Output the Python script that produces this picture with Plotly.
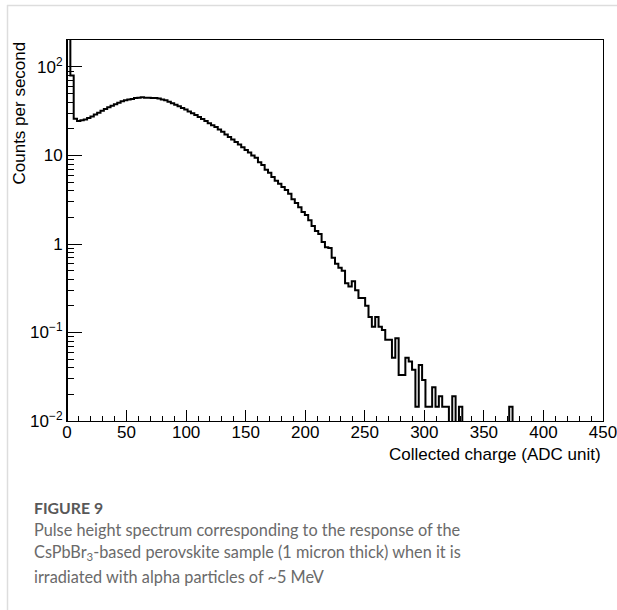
import numpy as np
import plotly.graph_objects as go

# ---- data ----
bin_width = 450 / 160
counts_per_second = [
    300, 80, 26, 24.5, 25, 25.5, 26.5, 27.5, 29, 30.5,
    32, 33.5, 35, 36.5, 38, 39.5, 41, 42, 43, 43.5,
    44.5, 45, 45.5, 45, 45, 44.5, 44.5, 44, 43, 42,
    40.5, 39, 37.5, 36, 34.5, 33, 31.5, 30, 28.7, 27.2,
    25.8, 24.5, 23.2, 22, 21, 19.7, 18.5, 17.3, 16.2, 15.2,
    14.2, 13.3, 12.4, 11.5, 10.8, 10.0, 9.4, 8.4, 7.8, 6.9,
    6.4, 5.7, 5.2, 4.8, 4.4, 4.07, 3.7, 3.2, 2.9, 2.6,
    2.3, 2.13, 1.85, 1.6, 1.4, 1.3, 1.05, 0.92, 0.9, 0.7,
    0.6, 0.54, 0.5, 0.36, 0.33, 0.38, 0.3, 0.245, 0.245, 0.2,
    0.15, 0.116, 0.15, 0.116, 0.107, 0.083, 0.083, 0.052, 0.086, 0.033,
    0.033, 0.052, 0.047, 0.038, 0.0145, 0.043, 0.029, 0.0145, 0.0145, 0.024,
    0.0145, 0.019, 0.0145, 0.0145, 0, 0.019, 0, 0.0145, 0, 0,
    0, 0, 0, 0, 0, 0, 0, 0, 0, 0,
    0, 0, 0.0145, 0, 0, 0, 0, 0, 0, 0,
    0, 0, 0, 0, 0, 0, 0, 0, 0, 0,
    0, 0, 0, 0, 0, 0, 0, 0, 0, 0,
]
x_tick_vals = [0, 50, 100, 150, 200, 250, 300, 350, 400, 450]
y_tick_vals = [0.01, 0.1, 1, 10, 100]
y_tick_text = ["10<sup>\u22122</sup>", "10<sup>\u22121</sup>", "1", "10", "10<sup>2</sup>"]

x_title = "Collected charge (ADC unit)"
y_title = "Counts per second"
fig_label = "FIGURE 9"
caption_lines = [
    "Pulse height spectrum corresponding to the response of the",
    "CsPbBr<sub>3</sub>-based perovskite sample (1 micron thick) when it is",
    "irradiated with alpha particles of ~5 MeV",
]

# ---- build histogram outline ----
vals = np.array(counts_per_second, dtype=float)
n = len(vals)
edges = np.arange(n + 1) * bin_width
floor = 1e-4  # empty bins drop below the axis (as ROOT does on log scale)
plot_vals = np.where(vals > 0, vals, floor)
xs = np.concatenate([[edges[0]], edges[:-1], [edges[-1]]])
ys = np.concatenate([[floor], plot_vals, [plot_vals[-1]]])

fig = go.Figure()
fig.add_trace(go.Scatter(
    x=xs, y=ys, mode="lines", line=dict(color="black", width=2, shape="hv"),
    hoverinfo="skip", showlegend=False,
))

FONT = "Liberation Sans, Arial, Helvetica, sans-serif"
CAP_FONT = "Lato, Open Sans, sans-serif"
L, R, T, B = 67, 14, 40, 189
W, H = 617, 610
pw, ph = W - L - R, H - T - B

def px_x(p):
    return (p - L) / pw

def px_y(p):
    return (H - B - p) / ph

y_minor = [m * 10.0 ** e for e in range(-2, 3) for m in range(2, 10) if m * 10.0 ** e < 205]
x_minor = [v for v in range(0, 451, 10) if v % 50 != 0]

fig.update_layout(
    width=W, height=H,
    margin=dict(l=L, r=R, t=T, b=B, autoexpand=False),
    paper_bgcolor="white", plot_bgcolor="white",
    font=dict(family=FONT, size=17, color="black"),
    xaxis=dict(
        range=[0, 450], showgrid=False, zeroline=False, automargin=False,
        showline=True, mirror=True, linecolor="black", linewidth=1,
        tickmode="array", tickvals=x_tick_vals,
        ticks="inside", ticklen=11, tickwidth=1, tickcolor="black",
        ticklabeloverflow="allow", ticklabelstandoff=-4,
        minor=dict(tickmode="array", tickvals=x_minor, ticks="inside", ticklen=5,
                   tickwidth=1, tickcolor="black", showgrid=False),
        tickfont=dict(family=FONT, size=17, color="black"),
    ),
    yaxis=dict(
        type="log", range=[-2, 2.305], showgrid=False, zeroline=False, automargin=False,
        showline=True, mirror=True, linecolor="black", linewidth=1,
        tickmode="array", tickvals=y_tick_vals, ticktext=y_tick_text,
        ticks="inside", ticklen=15, tickwidth=1, tickcolor="black",
        ticklabeloverflow="allow",
        minor=dict(tickmode="array", tickvals=y_minor, ticks="inside", ticklen=7,
                   tickwidth=1, tickcolor="black", showgrid=False),
        tickfont=dict(family=FONT, size=17, color="black"),
    ),
)

annotations = [
    dict(text=y_title, x=px_x(19), y=1.0, xref="paper", yref="paper",
         xanchor="center", yanchor="top", textangle=-90, showarrow=False,
         font=dict(family=FONT, size=17, color="black")),
    dict(text=x_title, x=px_x(603), y=px_y(455), xref="paper", yref="paper",
         xanchor="right", yanchor="middle", showarrow=False,
         font=dict(family=FONT, size=17, color="black")),
    dict(text="<b>" + fig_label + "</b>", x=px_x(32), y=px_y(507), xref="paper", yref="paper",
         xanchor="left", yanchor="middle", showarrow=False,
         font=dict(family=CAP_FONT, size=15.8, color="#585858")),
]
for i, line in enumerate(caption_lines):
    annotations.append(dict(
        text=line, x=px_x(32), y=px_y(529 + 23.5 * i), xref="paper", yref="paper",
        xanchor="left", yanchor="middle", showarrow=False,
        font=dict(family=CAP_FONT, size=16.3, color="#6a6a6a")))
fig.update_layout(annotations=annotations)

# page frame lines (light gray) at top and left
fig.add_shape(type="line", xref="paper", yref="paper",
              x0=px_x(7), x1=px_x(617), y0=px_y(5.5), y1=px_y(5.5),
              line=dict(color="#dddddd", width=1.5))
fig.add_shape(type="line", xref="paper", yref="paper",
              x0=px_x(7.5), x1=px_x(7.5), y0=px_y(5), y1=px_y(610),
              line=dict(color="#dddddd", width=1.5))

fig.write_html("out.html")
